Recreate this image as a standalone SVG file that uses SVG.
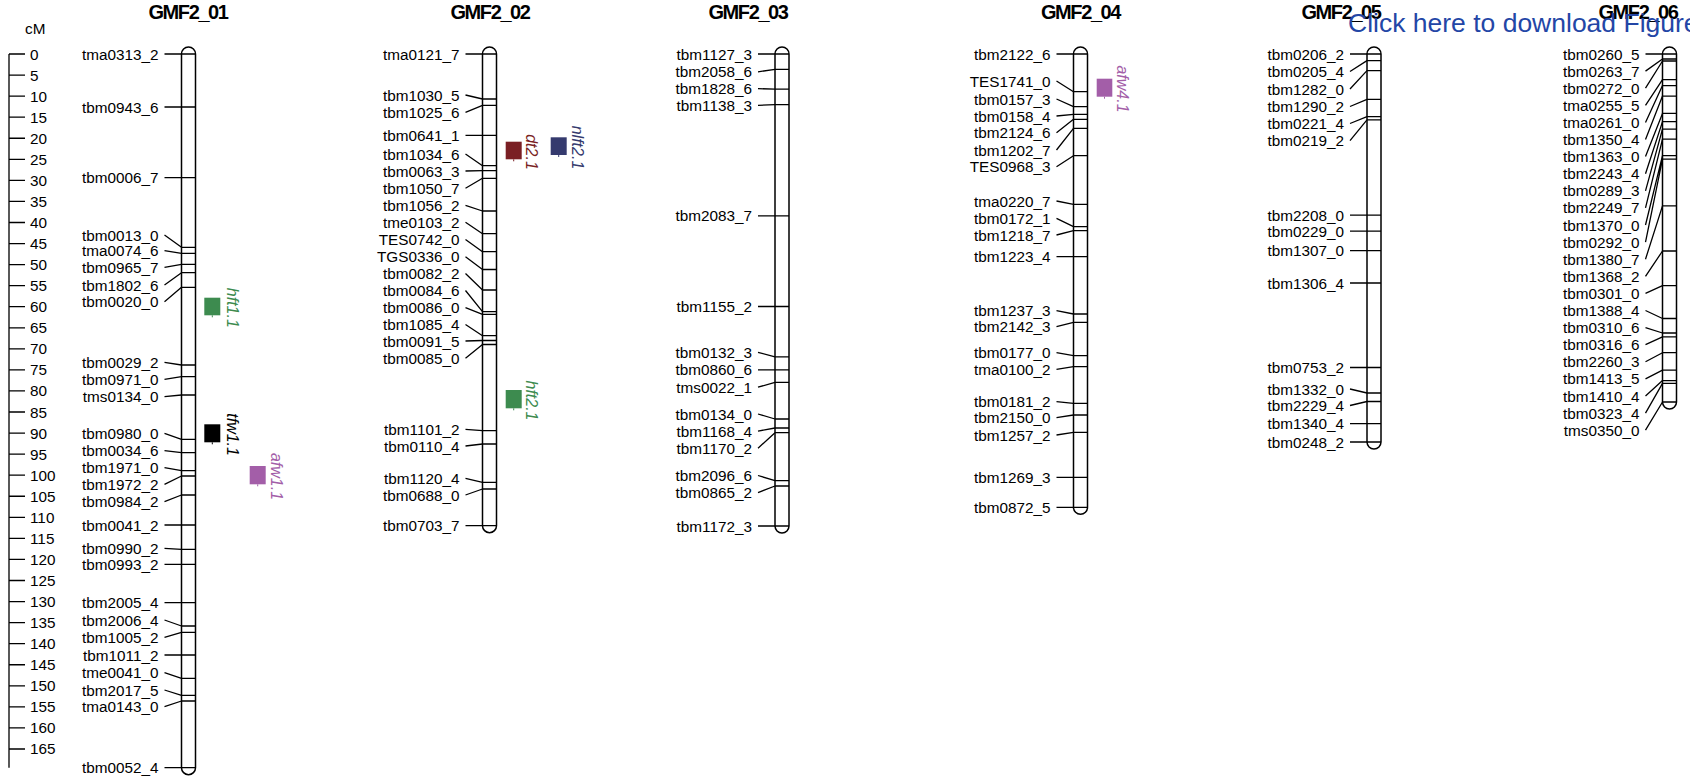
<svg xmlns="http://www.w3.org/2000/svg" width="1690" height="783" viewBox="0 0 1690 783">
<style>
text{font-family:"Liberation Sans",Arial,sans-serif}
.ln{stroke:#000;stroke-width:1.3;fill:none}
.chr{fill:#fff;stroke:#000;stroke-width:1.5}
.lbl{font-size:15.3px;text-anchor:end;fill:#000}
.sc{font-size:15.3px;fill:#000}
.ttl{font-size:20px;font-weight:bold;letter-spacing:-1.4px;text-anchor:middle;fill:#000}
.q{font-size:16px;font-style:italic;text-anchor:middle}
.green{fill:#3d8b4f}.maroon{fill:#7a1f24}.navy{fill:#353a6e}.purple{fill:#a35ea8}.black{fill:#000}
</style>
<rect width="1690" height="783" fill="#fff"/>

<g id="scale">
<text class="sc" x="25" y="34">cM</text>
<path class="ln" d="M9 54V767.7M9 54H25M9 75.06H25M9 96.12H25M9 117.18H25M9 138.24H25M9 159.3H25M9 180.36H25M9 201.42H25M9 222.48H25M9 243.54H25M9 264.6H25M9 285.66H25M9 306.72H25M9 327.78H25M9 348.84H25M9 369.9H25M9 390.96H25M9 412.02H25M9 433.08H25M9 454.14H25M9 475.2H25M9 496.26H25M9 517.32H25M9 538.38H25M9 559.44H25M9 580.5H25M9 601.56H25M9 622.62H25M9 643.68H25M9 664.74H25M9 685.8H25M9 706.86H25M9 727.92H25M9 748.98H25"/>
<g class="sc">
<text x="30" y="59.5">0</text><text x="30" y="80.56">5</text><text x="30" y="101.62">10</text><text x="30" y="122.68">15</text><text x="30" y="143.74">20</text><text x="30" y="164.8">25</text><text x="30" y="185.86">30</text><text x="30" y="206.92">35</text><text x="30" y="227.98">40</text><text x="30" y="249.04">45</text><text x="30" y="270.1">50</text><text x="30" y="291.16">55</text><text x="30" y="312.22">60</text><text x="30" y="333.28">65</text><text x="30" y="354.34">70</text><text x="30" y="375.4">75</text><text x="30" y="396.46">80</text><text x="30" y="417.52">85</text><text x="30" y="438.58">90</text><text x="30" y="459.64">95</text><text x="30" y="480.7">100</text><text x="30" y="501.76">105</text><text x="30" y="522.82">110</text><text x="30" y="543.88">115</text><text x="30" y="564.94">120</text><text x="30" y="586">125</text><text x="30" y="607.06">130</text><text x="30" y="628.12">135</text><text x="30" y="649.18">140</text><text x="30" y="670.24">145</text><text x="30" y="691.3">150</text><text x="30" y="712.36">155</text><text x="30" y="733.42">160</text><text x="30" y="754.48">165</text>
</g>
</g>

<g id="connectors" class="ln">
<path d="M164.5 54L181.5 54M164.5 107L181.5 107M164.5 177.7L181.5 177.7M164.5 235L181.5 247.3M164.5 250.7L181.5 253.3M164.5 267.3L181.5 264.3M164.5 285L181.5 272.7M164.5 301.7L181.5 287.3M164.5 362.3L181.5 365M164.5 379.3L181.5 376.7M164.5 396.7L181.5 395M164.5 433.3L181.5 439.3M164.5 450.7L181.5 452.7M164.5 467.7L181.5 470.7M164.5 484.3L181.5 476M164.5 501.7L181.5 495M164.5 525L181.5 525M164.5 548.3L181.5 549.3M164.5 564.3L181.5 564.3M164.5 602.7L181.5 602.7M164.5 620L181.5 626M164.5 637.3L181.5 632.3M164.5 655L181.5 655M164.5 672.7L181.5 678.3M164.5 690L181.5 695.3M164.5 706.7L181.5 701M164.5 767.7L181.5 767.7"/>
<path d="M465.5 54L482.5 54M465.5 95L482.5 99M465.5 112.3L482.5 105.3M465.5 135.3L482.5 135.3M465.5 154L482.5 165.7M465.5 171L482.5 170.7M465.5 188.3L482.5 178.3M465.5 205.3L482.5 211M465.5 222.3L482.5 233.7M465.5 239.5L482.5 251.7M465.5 256.7L482.5 269.5M465.5 273.5L482.5 290M465.5 290.5L482.5 311.7M465.5 307.7L482.5 314.3M465.5 324.5L482.5 335.7M465.5 341L482.5 340.5M465.5 358.3L482.5 344.5M465.5 429.3L482.5 430.7M465.5 446L482.5 444M465.5 478.3L482.5 482.3M465.5 495L482.5 489M465.5 525.7L482.5 525.7"/>
<path d="M758 54L775 54M758 71.8L775 69.4M758 88.6L775 89.2M758 105.3L775 104.6M758 215.8L775 215.8M758 306.5L775 306.5M758 352.3L775 356.8M758 369.8L775 369.8M758 387.2L775 382.4M758 414L775 419M758 431.1L775 428M758 448.2L775 432.7M758 475.5L775 480.6M758 492.6L775 486M758 526L775 526"/>
<path d="M1056.5 54L1073.5 54M1056.5 81L1073.5 91.7M1056.5 99L1073.5 106.7M1056.5 116L1073.5 114.3M1056.5 132.7L1073.5 119.3M1056.5 150L1073.5 128.3M1056.5 166.7L1073.5 155.7M1056.5 201L1073.5 204.3M1056.5 218.3L1073.5 226.7M1056.5 235L1073.5 230.7M1056.5 256.7L1073.5 256.7M1056.5 310.7L1073.5 314M1056.5 326.7L1073.5 322.3M1056.5 352.7L1073.5 355.7M1056.5 369.3L1073.5 366.7M1056.5 401.7L1073.5 403.3M1056.5 417.7L1073.5 415M1056.5 435L1073.5 432.3M1056.5 477.3L1073.5 477.3M1056.5 507.3L1073.5 507.3"/>
<path d="M1350 54L1367 54M1350 71.5L1367 60.6M1350 89L1367 70.6M1350 106.5L1367 99.3M1350 123.5L1367 116.6M1350 140.7L1367 119.9M1350 215.2L1367 215.2M1350 231.1L1367 231.1M1350 250.6L1367 250.6M1350 283L1367 283M1350 367.5L1367 367.5M1350 389L1367 393M1350 405.5L1367 401.5M1350 423.7L1367 423.7M1350 442L1367 442"/>
<path d="M1645.5 54L1662.5 54M1645.5 71.1L1662.5 59M1645.5 88.2L1662.5 61M1645.5 105.3L1662.5 79.7M1645.5 122.4L1662.5 85.6M1645.5 139.5L1662.5 96.1M1645.5 156.6L1662.5 113.4M1645.5 173.7L1662.5 121.6M1645.5 190.8L1662.5 129.1M1645.5 207.9L1662.5 139.2M1645.5 225L1662.5 155.6M1645.5 242.1L1662.5 159.2M1645.5 259.2L1662.5 205.9M1645.5 276.3L1662.5 251M1645.5 293.4L1662.5 285.7M1645.5 310.5L1662.5 318.5M1645.5 327.6L1662.5 333M1645.5 344.7L1662.5 336.8M1645.5 361.8L1662.5 352.7M1645.5 378.9L1662.5 370.1M1645.5 396L1662.5 380.6M1645.5 413.1L1662.5 383.4M1645.5 430.2L1662.5 402"/>
</g>

<g id="GMF2_01">
<text class="ttl" x="188" y="18.5">GMF2_01</text>
<rect class="chr" x="181.5" y="47" width="14" height="727.7" rx="7"/>
<path class="ln" d="M181.5 54h14M181.5 107h14M181.5 177.7h14M181.5 247.3h14M181.5 253.3h14M181.5 264.3h14M181.5 272.7h14M181.5 287.3h14M181.5 365h14M181.5 376.7h14M181.5 395h14M181.5 439.3h14M181.5 452.7h14M181.5 470.7h14M181.5 476h14M181.5 495h14M181.5 525h14M181.5 549.3h14M181.5 564.3h14M181.5 602.7h14M181.5 626h14M181.5 632.3h14M181.5 655h14M181.5 678.3h14M181.5 695.3h14M181.5 701h14M181.5 767.7h14"/>
<g class="lbl">
<text x="158.5" y="59.5">tma0313_2</text><text x="158.5" y="112.5">tbm0943_6</text><text x="158.5" y="183.2">tbm0006_7</text><text x="158.5" y="240.5">tbm0013_0</text><text x="158.5" y="256.2">tma0074_6</text><text x="158.5" y="272.8">tbm0965_7</text><text x="158.5" y="290.5">tbm1802_6</text><text x="158.5" y="307.2">tbm0020_0</text><text x="158.5" y="367.8">tbm0029_2</text><text x="158.5" y="384.8">tbm0971_0</text><text x="158.5" y="402.2">tms0134_0</text><text x="158.5" y="438.8">tbm0980_0</text><text x="158.5" y="456.2">tbm0034_6</text><text x="158.5" y="473.2">tbm1971_0</text><text x="158.5" y="489.8">tbm1972_2</text><text x="158.5" y="507.2">tbm0984_2</text><text x="158.5" y="530.5">tbm0041_2</text><text x="158.5" y="553.8">tbm0990_2</text><text x="158.5" y="569.8">tbm0993_2</text><text x="158.5" y="608.2">tbm2005_4</text><text x="158.5" y="625.5">tbm2006_4</text><text x="158.5" y="642.8">tbm1005_2</text><text x="158.5" y="660.5">tbm1011_2</text><text x="158.5" y="678.2">tme0041_0</text><text x="158.5" y="695.5">tbm2017_5</text><text x="158.5" y="712.2">tma0143_0</text><text x="158.5" y="773.2">tbm0052_4</text>
</g>
</g>

<g id="qtl_hft1.1">
<rect class="green" x="204.3" y="297.7" width="16" height="17.6"/>
<rect class="green" x="211.8" y="315.3" width="1" height="2"/>
<text class="q green" transform="translate(226.5,307.8) rotate(90)">hft1.1</text>
</g>
<g id="qtl_tfw1.1">
<rect class="black" x="204.3" y="424.3" width="16" height="18"/>
<rect class="black" x="211.8" y="442.3" width="1" height="2"/>
<text class="q black" transform="translate(227,434.6) rotate(90)">tfw1.1</text>
</g>
<g id="qtl_afw1.1">
<rect class="purple" x="249.7" y="466" width="16" height="18.3"/>
<rect class="purple" x="257.2" y="484.3" width="1" height="2"/>
<text class="q purple" transform="translate(271,476.5) rotate(90)">afw1.1</text>
</g>

<g id="GMF2_02">
<text class="ttl" x="490" y="18.5">GMF2_02</text>
<rect class="chr" x="482.5" y="47" width="14" height="485.7" rx="7"/>
<path class="ln" d="M482.5 54h14M482.5 99h14M482.5 105.3h14M482.5 135.3h14M482.5 165.7h14M482.5 170.7h14M482.5 178.3h14M482.5 211h14M482.5 233.7h14M482.5 251.7h14M482.5 269.5h14M482.5 290h14M482.5 311.7h14M482.5 314.3h14M482.5 335.7h14M482.5 340.5h14M482.5 344.5h14M482.5 430.7h14M482.5 444h14M482.5 482.3h14M482.5 489h14M482.5 525.7h14"/>
<g class="lbl">
<text x="459.5" y="59.5">tma0121_7</text><text x="459.5" y="100.5">tbm1030_5</text><text x="459.5" y="117.8">tbm1025_6</text><text x="459.5" y="140.8">tbm0641_1</text><text x="459.5" y="159.5">tbm1034_6</text><text x="459.5" y="176.5">tbm0063_3</text><text x="459.5" y="193.8">tbm1050_7</text><text x="459.5" y="210.8">tbm1056_2</text><text x="459.5" y="227.8">tme0103_2</text><text x="459.5" y="245">TES0742_0</text><text x="459.5" y="262.2">TGS0336_0</text><text x="459.5" y="279">tbm0082_2</text><text x="459.5" y="296">tbm0084_6</text><text x="459.5" y="313.2">tbm0086_0</text><text x="459.5" y="330">tbm1085_4</text><text x="459.5" y="346.5">tbm0091_5</text><text x="459.5" y="363.8">tbm0085_0</text><text x="459.5" y="434.8">tbm1101_2</text><text x="459.5" y="451.5">tbm0110_4</text><text x="459.5" y="483.8">tbm1120_4</text><text x="459.5" y="500.5">tbm0688_0</text><text x="459.5" y="531.2">tbm0703_7</text>
</g>
</g>

<g id="qtl_dt2.1">
<rect class="maroon" x="505.7" y="141.7" width="16" height="17.6"/>
<rect class="maroon" x="513.2" y="159.3" width="1" height="2"/>
<text class="q maroon" transform="translate(526,152) rotate(90)">dt2.1</text>
</g>
<g id="qtl_nlft2.1">
<rect class="navy" x="550.7" y="137.3" width="16" height="17.7"/>
<rect class="navy" x="558.2" y="155" width="1" height="2"/>
<text class="q navy" transform="translate(571.5,147.5) rotate(90)">nlft2.1</text>
</g>
<g id="qtl_hft2.1">
<rect class="green" x="505.7" y="390" width="16" height="18.3"/>
<rect class="green" x="513.2" y="408.3" width="1" height="2"/>
<text class="q green" transform="translate(526,400.5) rotate(90)">hft2.1</text>
</g>

<g id="GMF2_03">
<text class="ttl" x="748" y="18.5">GMF2_03</text>
<rect class="chr" x="775" y="47" width="14" height="486" rx="7"/>
<path class="ln" d="M775 54h14M775 69.4h14M775 89.2h14M775 104.6h14M775 215.8h14M775 306.5h14M775 356.8h14M775 369.8h14M775 382.4h14M775 419h14M775 428h14M775 432.7h14M775 480.6h14M775 486h14M775 526h14"/>
<g class="lbl">
<text x="752" y="59.5">tbm1127_3</text><text x="752" y="77.3">tbm2058_6</text><text x="752" y="94.1">tbm1828_6</text><text x="752" y="110.8">tbm1138_3</text><text x="752" y="221.3">tbm2083_7</text><text x="752" y="312">tbm1155_2</text><text x="752" y="357.8">tbm0132_3</text><text x="752" y="375.3">tbm0860_6</text><text x="752" y="392.7">tms0022_1</text><text x="752" y="419.5">tbm0134_0</text><text x="752" y="436.6">tbm1168_4</text><text x="752" y="453.7">tbm1170_2</text><text x="752" y="481">tbm2096_6</text><text x="752" y="498.1">tbm0865_2</text><text x="752" y="531.5">tbm1172_3</text>
</g>
</g>

<g id="GMF2_04">
<text class="ttl" x="1080.5" y="18.5">GMF2_04</text>
<rect class="chr" x="1073.5" y="47" width="14" height="467.3" rx="7"/>
<path class="ln" d="M1073.5 54h14M1073.5 91.7h14M1073.5 106.7h14M1073.5 114.3h14M1073.5 119.3h14M1073.5 128.3h14M1073.5 155.7h14M1073.5 204.3h14M1073.5 226.7h14M1073.5 230.7h14M1073.5 256.7h14M1073.5 314h14M1073.5 322.3h14M1073.5 355.7h14M1073.5 366.7h14M1073.5 403.3h14M1073.5 415h14M1073.5 432.3h14M1073.5 477.3h14M1073.5 507.3h14"/>
<g class="lbl">
<text x="1050.5" y="59.5">tbm2122_6</text><text x="1050.5" y="86.5">TES1741_0</text><text x="1050.5" y="104.5">tbm0157_3</text><text x="1050.5" y="121.5">tbm0158_4</text><text x="1050.5" y="138.2">tbm2124_6</text><text x="1050.5" y="155.5">tbm1202_7</text><text x="1050.5" y="172.2">TES0968_3</text><text x="1050.5" y="206.5">tma0220_7</text><text x="1050.5" y="223.8">tbm0172_1</text><text x="1050.5" y="240.5">tbm1218_7</text><text x="1050.5" y="262.2">tbm1223_4</text><text x="1050.5" y="316.2">tbm1237_3</text><text x="1050.5" y="332.2">tbm2142_3</text><text x="1050.5" y="358.2">tbm0177_0</text><text x="1050.5" y="374.8">tma0100_2</text><text x="1050.5" y="407.2">tbm0181_2</text><text x="1050.5" y="423.2">tbm2150_0</text><text x="1050.5" y="440.5">tbm1257_2</text><text x="1050.5" y="482.8">tbm1269_3</text><text x="1050.5" y="512.8">tbm0872_5</text>
</g>
</g>

<g id="qtl_afw4.1">
<rect class="purple" x="1096.7" y="78.7" width="15.6" height="18"/>
<rect class="purple" x="1104" y="96.7" width="1" height="2"/>
<text class="q purple" transform="translate(1117,89) rotate(90)">afw4.1</text>
</g>

<g id="GMF2_05">
<text class="ttl" x="1341" y="18.5">GMF2_05</text>
<rect class="chr" x="1367" y="47" width="14" height="402" rx="7"/>
<path class="ln" d="M1367 54h14M1367 60.6h14M1367 70.6h14M1367 99.3h14M1367 116.6h14M1367 119.9h14M1367 215.2h14M1367 231.1h14M1367 250.6h14M1367 283h14M1367 367.5h14M1367 393h14M1367 401.5h14M1367 423.7h14M1367 442h14"/>
<g class="lbl">
<text x="1344" y="59.5">tbm0206_2</text><text x="1344" y="77">tbm0205_4</text><text x="1344" y="94.5">tbm1282_0</text><text x="1344" y="112">tbm1290_2</text><text x="1344" y="129">tbm0221_4</text><text x="1344" y="146.2">tbm0219_2</text><text x="1344" y="220.7">tbm2208_0</text><text x="1344" y="236.6">tbm0229_0</text><text x="1344" y="256.1">tbm1307_0</text><text x="1344" y="288.5">tbm1306_4</text><text x="1344" y="373">tbm0753_2</text><text x="1344" y="394.5">tbm1332_0</text><text x="1344" y="411">tbm2229_4</text><text x="1344" y="429.2">tbm1340_4</text><text x="1344" y="447.5">tbm0248_2</text>
</g>
</g>

<g id="GMF2_06">
<text class="ttl" x="1638" y="18.5">GMF2_06</text>
<rect class="chr" x="1662.5" y="47" width="14" height="362" rx="7"/>
<path class="ln" d="M1662.5 54h14M1662.5 59h14M1662.5 61h14M1662.5 79.7h14M1662.5 85.6h14M1662.5 96.1h14M1662.5 113.4h14M1662.5 121.6h14M1662.5 129.1h14M1662.5 139.2h14M1662.5 155.6h14M1662.5 159.2h14M1662.5 205.9h14M1662.5 251h14M1662.5 285.7h14M1662.5 318.5h14M1662.5 333h14M1662.5 336.8h14M1662.5 352.7h14M1662.5 370.1h14M1662.5 380.6h14M1662.5 383.4h14M1662.5 402h14"/>
<g class="lbl">
<text x="1639.5" y="59.5">tbm0260_5</text><text x="1639.5" y="76.6">tbm0263_7</text><text x="1639.5" y="93.7">tbm0272_0</text><text x="1639.5" y="110.8">tma0255_5</text><text x="1639.5" y="127.9">tma0261_0</text><text x="1639.5" y="145">tbm1350_4</text><text x="1639.5" y="162.1">tbm1363_0</text><text x="1639.5" y="179.2">tbm2243_4</text><text x="1639.5" y="196.3">tbm0289_3</text><text x="1639.5" y="213.4">tbm2249_7</text><text x="1639.5" y="230.5">tbm1370_0</text><text x="1639.5" y="247.6">tbm0292_0</text><text x="1639.5" y="264.7">tbm1380_7</text><text x="1639.5" y="281.8">tbm1368_2</text><text x="1639.5" y="298.9">tbm0301_0</text><text x="1639.5" y="316">tbm1388_4</text><text x="1639.5" y="333.1">tbm0310_6</text><text x="1639.5" y="350.2">tbm0316_6</text><text x="1639.5" y="367.3">tbm2260_3</text><text x="1639.5" y="384.4">tbm1413_5</text><text x="1639.5" y="401.5">tbm1410_4</text><text x="1639.5" y="418.6">tbm0323_4</text><text x="1639.5" y="435.7">tms0350_0</text>
</g>
</g>

<text x="1348" y="32" font-size="26.5" fill="#2346a6">Click here to download Figure</text>
</svg>
